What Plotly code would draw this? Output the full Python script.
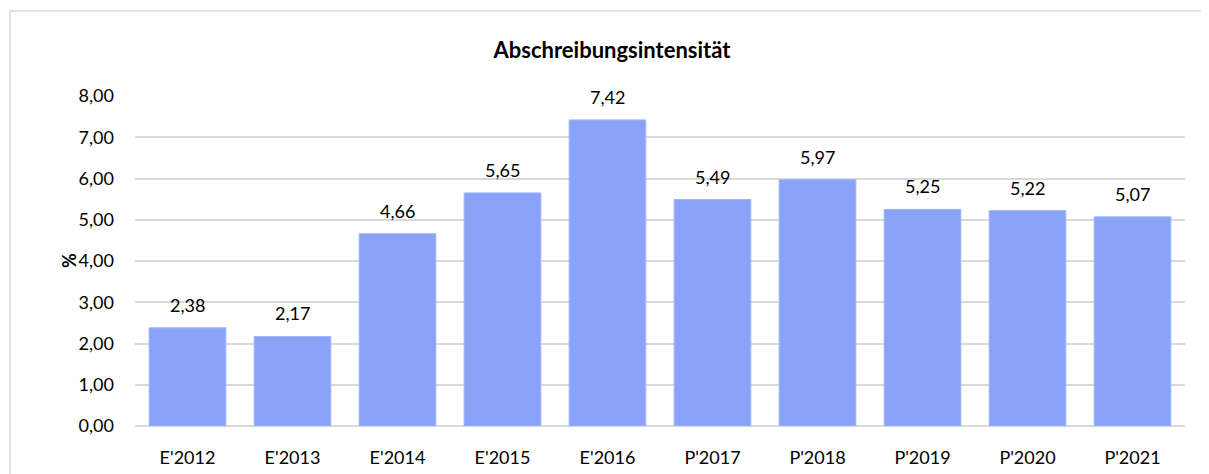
import plotly.graph_objects as go

categories = ["E'2012", "E'2013", "E'2014", "E'2015", "E'2016", "P'2017", "P'2018", "P'2019", "P'2020", "P'2021"]
values = [2.38, 2.17, 4.66, 5.65, 7.42, 5.49, 5.97, 5.25, 5.22, 5.07]
y_ticks = [0, 1, 2, 3, 4, 5, 6, 7, 8]

FONT = "Lato"
BAR = "#89A3F9"
GRID = "#D9D9D9"
W, H = 1201, 466  # page body has an 8px margin

fig = go.Figure()
fig.add_trace(go.Bar(
    x=categories, y=values,
    marker=dict(color=BAR, line=dict(color="#9DB3FA", width=1)),
    hoverinfo="x+y",
))

for c, v in zip(categories, values):
    fig.add_annotation(
        x=c, y=v, xref="x", yref="y",
        text=f"{v:.2f}".replace(".", ","),
        showarrow=False, yanchor="middle", yshift=23,
        font=dict(family=FONT, size=18, color="#000000"),
    )

# "%" axis title
fig.add_annotation(
    x=(56 - 135) / 1050, y=0.5, xref="paper", yref="paper",
    text="<b>%</b>", textangle=-90, showarrow=False,
    font=dict(family=FONT, size=18, color="#000000"),
)

# outer chart frame (left and top edges visible)
fx = (10 - 135) / 1050
fy = (426 - 11) / 330
fig.add_shape(type="line", xref="paper", yref="paper", x0=fx, x1=fx, y0=-0.2, y1=fy,
              line=dict(color="#D9D9D9", width=1.5), layer="below")
fig.add_shape(type="line", xref="paper", yref="paper", x0=fx, x1=1.05, y0=fy, y1=fy,
              line=dict(color="#D9D9D9", width=1.5), layer="below")

fig.update_layout(
    width=W, height=H,
    margin=dict(l=127, r=24, t=88, b=48),
    paper_bgcolor="white", plot_bgcolor="white",
    separators=",.",
    bargap=0.27,
    showlegend=False,
    title=dict(text="<b>Abschreibungsintensität</b>", x=604 / W, xref="container", xanchor="center",
               y=1 - 42 / H, yref="container", yanchor="middle",
               font=dict(family=FONT, size=22, color="#000000")),
    font=dict(family=FONT, size=18, color="#000000"),
    xaxis=dict(showgrid=False, showline=False, ticks="", ticklabelstandoff=19, automargin=False,
               tickfont=dict(family=FONT, size=18, color="#000000")),
    yaxis=dict(range=[0, 8], tickvals=y_ticks, tickformat=".2f", automargin=False,
               showgrid=True, gridcolor=GRID, gridwidth=1.5,
               zeroline=True, zerolinecolor=GRID, zerolinewidth=1.5,
               showline=False, ticks="", ticklabelstandoff=20,
               tickfont=dict(family=FONT, size=18, color="#000000")),
)

fig.write_html("out.html")
